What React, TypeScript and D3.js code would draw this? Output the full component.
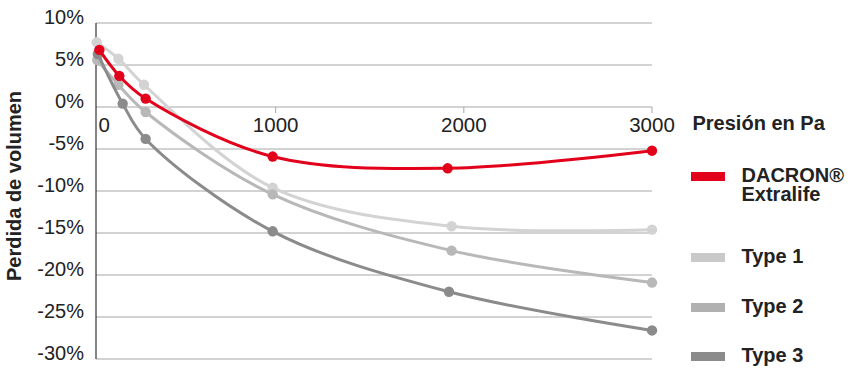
import React from "react";
import * as d3 from "d3";

const yTicks = [10, 5, 0, -5, -10, -15, -20, -25, -30];
const xTicks = [0, 1000, 2000, 3000];

const dacronX = [63, 169, 309, 984, 1914, 3000];
const dacronY = [6.8, 3.7, 1.0, -5.9, -7.3, -5.2];
const type1X = [49, 164, 300, 984, 1935, 3000];
const type1Y = [7.7, 5.75, 2.65, -9.6, -14.2, -14.6];
const type2X = [52, 164, 309, 984, 1935, 3000];
const type2Y = [5.6, 2.65, -0.6, -10.4, -17.1, -20.9];
const type3X = [55, 187, 309, 984, 1921, 3000];
const type3Y = [6.3, 0.4, -3.8, -14.8, -22.0, -26.6];

const seriesNames = ["Type 1", "Type 2", "Type 3", "DACRON® Extralife"];

const W = 853;
const H = 377;
const plotLeft = 96;
const plotRight = 652;

export default function App() {
  const x = d3.scaleLinear().domain([0, 3000]).range([87.5, 652]);
  const y = d3.scaleLinear().domain([-30, 10]).range([359, 23]);

  const series = [
    { name: seriesNames[0], xs: type1X, ys: type1Y, color: "#d3d3d3" },
    { name: seriesNames[1], xs: type2X, ys: type2Y, color: "#b8b8b8" },
    { name: seriesNames[2], xs: type3X, ys: type3Y, color: "#8b8b8b" },
    { name: seriesNames[3], xs: dacronX, ys: dacronY, color: "#e2001a" },
  ];

  const line = d3
    .line<[number, number]>()
    .x((d) => x(d[0]))
    .y((d) => y(d[1]))
    .curve(d3.curveCatmullRom.alpha(0.5));

  const font = "'Liberation Sans', Arial, Helvetica, sans-serif";

  const legendItems = [
    { lines: ["DACRON®", "Extralife"], color: "#e2001a", base: 182 },
    { lines: ["Type 1"], color: "#c9c9c9", base: 263 },
    { lines: ["Type 2"], color: "#b0b0b0", base: 313 },
    { lines: ["Type 3"], color: "#8b8b8b", base: 362 },
  ];

  return (
    <svg
      width={W}
      height={H}
      style={{ position: "absolute", left: 0, top: 0, background: "#fff" }}
      fontFamily={font}
    >
      {yTicks.map((t) => (
        <line
          key={"g" + t}
          x1={plotLeft}
          x2={plotRight}
          y1={y(t)}
          y2={y(t)}
          stroke="#a6a6a6"
          strokeWidth={1}
        />
      ))}
      {yTicks.map((t) => (
        <text
          key={"yl" + t}
          x={84}
          y={y(t) + 1}
          textAnchor="end"
          fontSize={20}
          fill="#222"
        >
          {t + "%"}
        </text>
      ))}
      {xTicks
        .filter((t) => t > 0)
        .map((t) => (
          <line
            key={"xt" + t}
            x1={x(t)}
            x2={x(t)}
            y1={y(0)}
            y2={y(0) + 6}
            stroke="#a6a6a6"
            strokeWidth={1}
          />
        ))}
      {xTicks.map((t) => (
        <text
          key={"xl" + t}
          x={t === 0 ? plotLeft + 2.5 : x(t)}
          y={131.5}
          textAnchor={t === 0 ? "start" : "middle"}
          fontSize={20.5}
          fill="#222"
        >
          {t}
        </text>
      ))}
      <line x1={plotLeft} x2={plotLeft} y1={y(10)} y2={y(-30)} stroke="#333" strokeWidth={1.2} />

      {series.map((s) => {
        const pts: [number, number][] = s.xs.map((v, i) => [v, s.ys[i]]);
        return (
          <g key={s.name}>
            <path d={line(pts) || ""} fill="none" stroke={s.color} strokeWidth={3} />
            {pts.map((p, i) => (
              <circle key={i} cx={x(p[0])} cy={y(p[1])} r={5.2} fill={s.color} />
            ))}
          </g>
        );
      })}

      <text
        transform={`translate(21,186) rotate(-90)`}
        textAnchor="middle"
        fontSize={20}
        fontWeight="bold"
        fill="#222"
      >
        Perdida de volumen
      </text>
      <text x={692.5} y={130} fontSize={20} fontWeight="bold" fill="#222">
        Presión en Pa
      </text>

      {legendItems.map((it) => (
        <g key={it.lines[0]}>
          <rect x={691} y={it.base - 10} width={34} height={9} fill={it.color} />
          <text x={741.5} y={it.base} fontSize={20} fontWeight="bold" fill="#222">
            {it.lines.map((l, i) => (
              <tspan key={l} x={741.5} dy={i === 0 ? 0 : 18.5}>
                {l}
              </tspan>
            ))}
          </text>
        </g>
      ))}
    </svg>
  );
}
